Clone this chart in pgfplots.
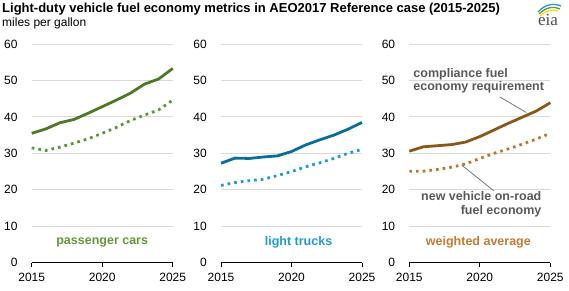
\documentclass[border=0pt]{standalone}
\usepackage{pgfplots}
\pgfplotsset{compat=1.18}
\usepackage{fontspec}
\setmainfont{Liberation Sans}
\newfontfamily\serifeia{Liberation Serif}

\definecolor{pcsolid}{HTML}{4E7A27}
\definecolor{pcdot}{HTML}{5E9732}
\definecolor{pclab}{HTML}{62993A}
\definecolor{ltsolid}{HTML}{0B6E9A}
\definecolor{ltdot}{HTML}{1E9BD7}
\definecolor{ltlab}{HTML}{1E9BD7}
\definecolor{wasolid}{HTML}{8B5819}
\definecolor{wadot}{HTML}{C07630}
\definecolor{walab}{HTML}{C47A31}
\definecolor{anngray}{HTML}{595959}
\definecolor{gridgray}{HTML}{D9D9D9}

\newcommand{\ticksize}{\fontsize{12}{12}\selectfont}
\newcommand{\labsize}{\fontsize{12.5}{13.7}\selectfont\bfseries}

\pgfplotsset{
  panel/.style={
    scale only axis, width=141pt, height=218.7pt,
    xmin=2015, xmax=2025, ymin=0, ymax=60,
    xtick={2015,2020,2025}, ytick={0,10,...,60},
    axis x line*=bottom, axis y line*=left,
    y axis line style={draw=none},
    x axis line style={black, line width=0.9pt},
    ytick style={draw=none},
    xtick style={black, line width=0.9pt},
    tick align=outside, major tick length=4pt,
    ymajorgrids, grid style={gridgray, line width=0.9pt},
    /pgf/number format/1000 sep={},
    /pgf/number format/assume math mode=true,
    tick label style={font=\ticksize, text=black},
    yticklabel style={anchor=east, inner sep=0pt, xshift=-10pt},
    xticklabel style={anchor=north, inner sep=0pt, yshift=-6pt},
    clip=false,
  },
  solidline/.style={line width=2.8pt, line join=round, no markers},
  dotline/.style={line width=2.8pt, line cap=butt, dash pattern=on 2.7pt off 4pt, no markers},
}

\begin{document}
\begin{tikzpicture}[x=1pt,y=1pt]

\node[anchor=base west, inner sep=0pt, font=\fontsize{13}{13}\selectfont\bfseries] at (2,278) {Light-duty vehicle fuel economy metrics in AEO2017 Reference case (2015-2025)};
\node[anchor=base west, inner sep=0pt, font=\fontsize{12}{12}\selectfont] at (2,264) {miles per gallon};

% eia logo
\node[anchor=base, inner sep=0pt, text=black!70, font=\fontsize{17}{17}\serifeia] at (548,265) {eia};
\draw[line width=1.3pt, color=ltdot] (538,279) .. controls (545,287) and (554,288) .. (561,285);
\draw[line width=1.3pt, color=pclab] (539,277) .. controls (546,284) and (554,285) .. (560,282);
\draw[line width=1.3pt, color=yellow!80!orange] (540,275) .. controls (546,281) and (553,282) .. (558,280);

\begin{axis}[panel, at={(31.7pt,28.3pt)}, anchor=south west]
\addplot[solidline, pcsolid] coordinates {(2015,35.5) (2016,36.7) (2017,38.4) (2018,39.3) (2019,41.0) (2020,42.8) (2021,44.6) (2022,46.5) (2023,49.0) (2024,50.4) (2025,53.3)};
\addplot[dotline, pcdot] coordinates {(2015,31.5) (2016,30.8) (2017,31.7) (2018,32.8) (2019,34.0) (2020,35.5) (2021,37.1) (2022,39.0) (2023,40.5) (2024,41.9) (2025,44.6)};
\node[font=\labsize, text=pclab] at (axis cs:2020,5.5) {passenger cars};
\end{axis}

\begin{axis}[panel, at={(221pt,28.3pt)}, anchor=south west]
\addplot[solidline, ltsolid] coordinates {(2015,27.3) (2016,28.7) (2017,28.6) (2018,29.0) (2019,29.3) (2020,30.5) (2021,32.3) (2022,33.7) (2023,35.0) (2024,36.6) (2025,38.5)};
\addplot[dotline, ltdot] coordinates {(2015,21.2) (2016,22.0) (2017,22.5) (2018,22.9) (2019,23.9) (2020,25.0) (2021,26.3) (2022,27.4) (2023,28.6) (2024,30.0) (2025,31.1)};
\node[font=\labsize, text=ltlab] at (axis cs:2020.5,5.5) {light trucks};
\end{axis}

\begin{axis}[panel, at={(409.3pt,28.3pt)}, anchor=south west]
\addplot[solidline, wasolid] coordinates {(2015,30.6) (2016,31.8) (2017,32.1) (2018,32.4) (2019,33.1) (2020,34.6) (2021,36.4) (2022,38.2) (2023,39.9) (2024,41.6) (2025,43.9)};
\addplot[dotline, wadot] coordinates {(2015,25.1) (2016,25.1) (2017,25.6) (2018,26.2) (2019,27.1) (2020,28.6) (2021,30.0) (2022,31.2) (2023,32.5) (2024,33.9) (2025,35.5)};
\node[font=\labsize, text=walab] at (axis cs:2019.9,5.5) {weighted average};
\draw[anngray!80, line width=0.8pt] (axis cs:2021.41,45.5) -- (axis cs:2023.3,41.2);
\draw[anngray!80, line width=0.8pt] (axis cs:2020.99,19.75) -- (axis cs:2018.71,26.8);
\node[font=\labsize, text=anngray, align=left, anchor=west, inner sep=0pt] at (axis cs:2015.28,49.9) {compliance fuel\\economy requirement};
\node[font=\labsize, text=anngray, align=right, anchor=east, inner sep=0pt] at (axis cs:2024.38,16.05) {new vehicle on-road\\fuel economy};
\end{axis}

\pgfresetboundingbox
\path (0,0) rectangle (569,291);
\end{tikzpicture}
\end{document}
